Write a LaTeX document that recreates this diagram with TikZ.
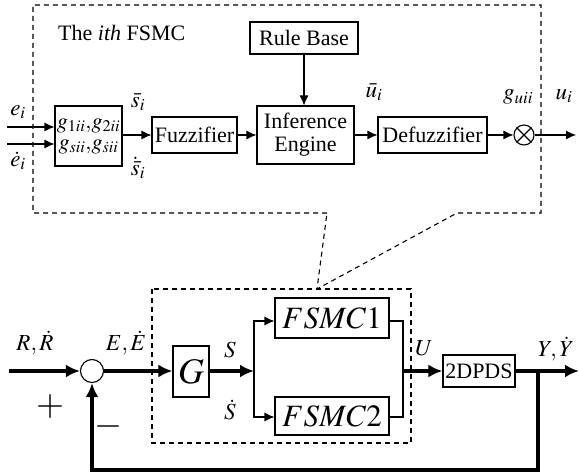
\documentclass[tikz,border=0pt]{standalone}
\usepackage{mathptmx}
\usepackage{fontspec}
\setmainfont{Liberation Serif}
\usetikzlibrary{arrows.meta}
\begin{document}
\begin{tikzpicture}[x=1pt,y=-1pt,
 blk/.style={draw,line width=1.1pt,inner sep=0pt,align=center,font=\fontsize{22}{24}\selectfont},
 thinln/.style={line width=1.1pt},
 thk/.style={line width=3.6pt},
 arrs/.style={-{Latex[length=10pt,width=9pt]}},
 arrb/.style={-{Latex[length=14pt,width=13pt]}},
 dsh/.style={line width=1.1pt,dash pattern=on 5pt off 4pt},
 lbl/.style={font=\fontsize{23}{25}\selectfont,inner sep=0pt},
 sign/.style={font=\fontsize{36}{38}\selectfont,inner sep=0pt}
]
\useasboundingbox (0,0) rectangle (579,476);

% ---------- upper: the ith FSMC ----------
\draw[dsh] (327,213) -- (33,213) -- (33,5) -- (541,5) -- (541,213) -- (457,213) -- (317,289) -- cycle;
\node[lbl,anchor=west,font=\fontsize{22}{24}\selectfont] (title) at (58,33) {The \textit{ith} FSMC};

\node[blk,minimum width=108pt,minimum height=32pt] (rule) at (304,38) {Rule Base};
\node[blk,minimum width=67pt,minimum height=60pt,font=\fontsize{22}{21}\selectfont] (gain) at (88.5,136)
  {$g_{1ii}{,}g_{2ii}$\\$g_{sii}{,}g_{\dot{s}ii}$};
\node[blk,minimum width=85pt,minimum height=36pt] (fuzz) at (194.5,135) {Fuzzifier};
\node[blk,minimum width=97pt,minimum height=58pt,font=\fontsize{22}{23}\selectfont] (inf) at (305.5,135) {Inference\\Engine};
\node[blk,minimum width=109pt,minimum height=36pt] (defuzz) at (432.5,135) {Defuzzifier};
\node[circle,draw,line width=1.1pt,minimum size=20pt,inner sep=0pt] (mult) at (524,135) {};
\draw[thinln] (mult.north west) -- (mult.south east) (mult.north east) -- (mult.south west);

\coordinate (ein) at (7,127);
\coordinate (edin) at (7,144);
\coordinate (uout) at (576,135);
\draw[thinln,arrs] (ein) -- (ein -| gain.west);
\draw[thinln,arrs] (edin) -- (edin -| gain.west);
\draw[thinln,arrs] (gain.east |- fuzz.west) -- (fuzz.west);
\draw[thinln,arrs] (fuzz.east) -- (inf.west |- fuzz.east);
\draw[thinln,arrs] (rule.south) -- (rule.south |- inf.north);
\draw[thinln,arrs] (inf.east |- defuzz.west) -- (defuzz.west);
\draw[thinln,arrs] (defuzz.east) -- (mult.west);
\draw[thinln,arrs] (mult.east) -- (uout);

\node[lbl] (le) at (18,112) {$e_i$};
\node[lbl] (led) at (18,161) {$\dot{e}_i$};
\node[lbl] (ls) at (138,102) {$\bar{s}_i$};
\node[lbl] (lsd) at (138,168) {$\dot{\bar{s}}_i$};
\node[lbl] (lu) at (374,92) {$\bar{u}_i$};
\node[lbl] (lg) at (518,97) {$g_{uii}$};
\node[lbl] (lui) at (564,96) {$u_i$};

% ---------- lower: control loop ----------
\draw[dsh] (152,289) rectangle (411,443);

\node[circle,draw,line width=1.1pt,minimum size=23pt,inner sep=0pt] (sum) at (92,371) {};
\node[blk,minimum width=36pt,minimum height=51pt,font=\fontsize{36}{38}\selectfont] (G) at (191,371.5) {$G$};
\node[blk,minimum width=114pt,minimum height=40pt,font=\fontsize{31}{33}\selectfont] (f1) at (332,318) {$FSMC1$};
\node[blk,minimum width=114pt,minimum height=38pt,font=\fontsize{31}{33}\selectfont] (f2) at (332,416) {$FSMC2$};
\node[blk,minimum width=72pt,minimum height=32pt] (plant) at (479,371) {2DPDS};

\coordinate (rin) at (9,371);
\coordinate (br) at (254,371);
\coordinate (jn) at (403,371);
\coordinate (tap) at (538,371);
\coordinate (yout) at (579,371);
\coordinate (fb1) at (538,470);
\coordinate (fb2) at (92,470);

\draw[thk,arrb] (rin) -- (sum.west);
\draw[thk,arrb] (sum.east) -- (G.west |- sum.east);
\draw[thk,arrb] (G.east |- br) -- (br);
\draw[thinln,arrs] (br) |- (f1.west |- 0,321);
\draw[thinln,arrs] (br) |- (f2.west |- 0,417);
\draw[thinln] (f1.east |- 0,321) -| (jn);
\draw[thinln] (f2.east |- 0,417) -| (jn);
\draw[thk,arrb] (jn) -- (plant.west);
\draw[thk,arrb] (plant.east) -- (yout);
\draw[thk,arrb,line join=miter] (tap) -- (fb1) -- (fb2) -- (sum.south);

\node[lbl] (lR) at (35,343) {$R,\dot{R}$};
\node[lbl] (lE) at (126,343) {$E,\dot{E}$};
\node[sign] (plus) at (50,407) {$+$};
\node[sign] (minus) at (108,426) {$-$};
\node[lbl] (lS) at (230,350) {$S$};
\node[lbl] (lSd) at (230,410) {$\dot{S}$};
\node[lbl] (lU) at (424,348) {$U$};
\node[lbl] (lY) at (556,349) {$Y,\dot{Y}$};
\end{tikzpicture}
\end{document}
